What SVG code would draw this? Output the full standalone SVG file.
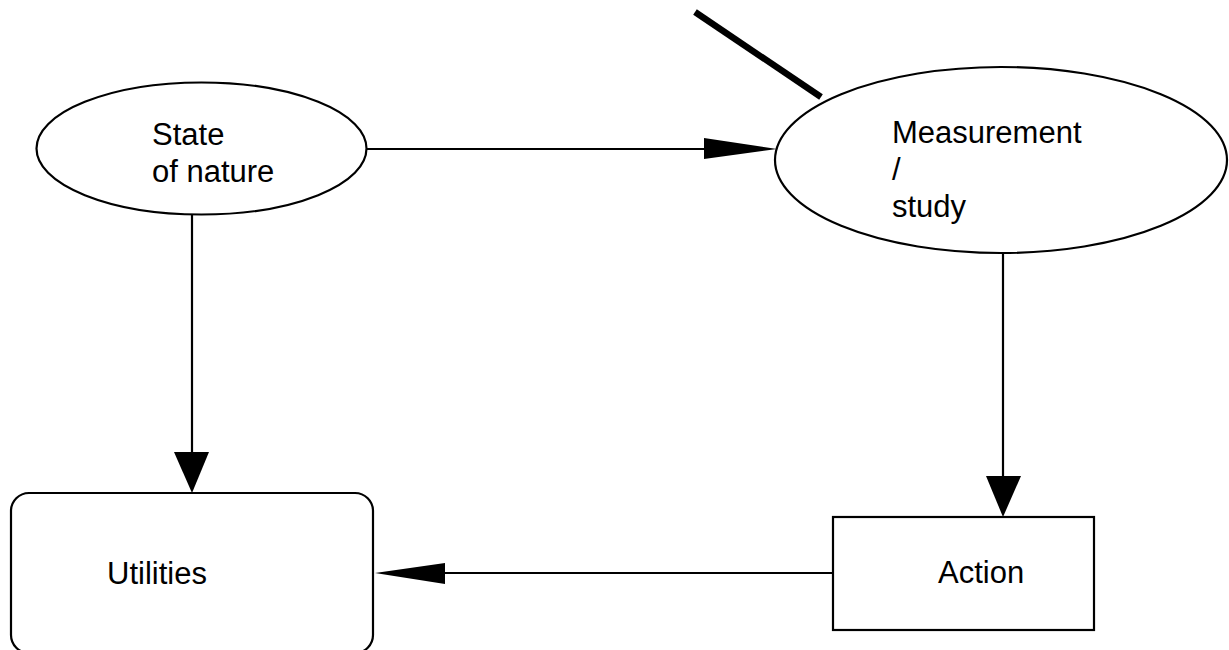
<svg xmlns="http://www.w3.org/2000/svg" width="1229" height="650" viewBox="0 0 1229 650">
<style>
.shape{fill:#fff;stroke:#000;stroke-width:2.2}
.edge{fill:none;stroke:#000;stroke-width:2.2}
.head{fill:#000;stroke:none}
.label{font-family:"Liberation Sans",Arial,sans-serif;font-size:31px;fill:#000}
</style>
<rect width="1229" height="650" fill="#fff"/>
<g id="connectors">
<line class="edge" x1="695" y1="12" x2="821" y2="97" style="stroke-width:6.5"/>
<line class="edge" x1="367" y1="149" x2="710" y2="149"/>
<polygon class="head" points="704,138 777,149 704,159"/>
<line class="edge" x1="192" y1="215" x2="192" y2="455"/>
<polygon class="head" points="174,452 192,493 209,452"/>
<line class="edge" x1="1003" y1="253" x2="1003" y2="480"/>
<polygon class="head" points="986,476 1003,517 1021,476"/>
<line class="edge" x1="833" y1="573" x2="440" y2="573"/>
<polygon class="head" points="445,563 375,573 445,584"/>
</g>
<g id="state">
<ellipse class="shape" cx="201.5" cy="148.5" rx="165" ry="66"/>
<text class="label" x="152" y="145">State</text>
<text class="label" x="152" y="182">of nature</text>
</g>
<g id="measurement">
<ellipse class="shape" cx="1001" cy="160" rx="226" ry="93"/>
<text class="label" x="892" y="143">Measurement</text>
<text class="label" x="892" y="180">/</text>
<text class="label" x="892" y="217">study</text>
</g>
<g id="utilities">
<rect class="shape" x="11" y="493" width="362" height="160" rx="18"/>
<text class="label" x="107" y="584">Utilities</text>
</g>
<g id="action">
<rect class="shape" x="833" y="517" width="261" height="113"/>
<text class="label" x="938" y="583">Action</text>
</g>
</svg>
